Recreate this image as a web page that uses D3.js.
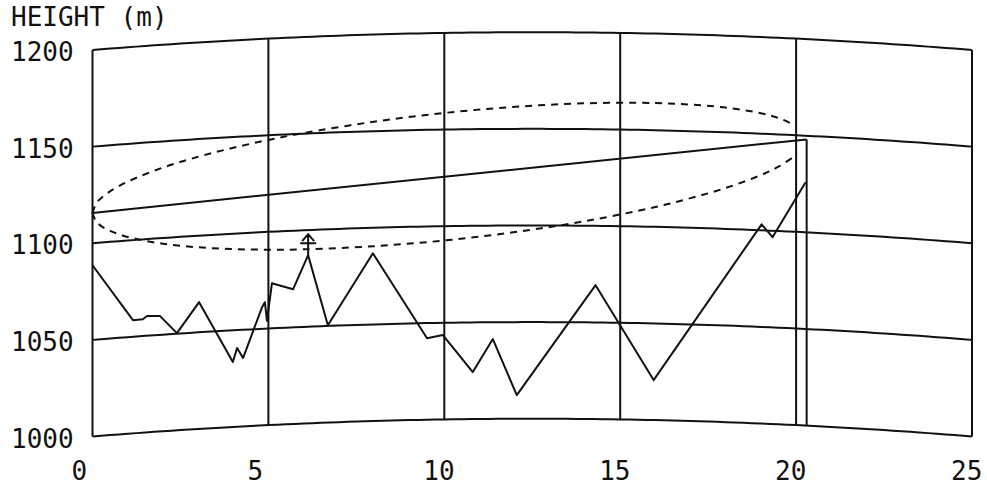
<!DOCTYPE html>
<html>
<head>
<meta charset="utf-8">
<script src="https://cdn.jsdelivr.net/npm/d3@7"></script>
<style>
  html, body { margin: 0; padding: 0; background: #fff; }
  svg { display: block; }
  text { font-family: "DejaVu Sans Mono", monospace; font-size: 26px; fill: #111; }
</style>
</head>
<body>
<svg id="chart" width="987" height="486"></svg>
<script>
// ---- data ----
const xTicks = [0, 5, 10, 15, 20, 25];
const yTicks = [1000, 1050, 1100, 1150, 1200];
const yTitle = "HEIGHT (m)";

// terrain profile: distance (km) and ground height (m)
const distanceKm = [0, 1.15, 1.43, 1.55, 1.92, 2.40, 3.03, 3.99, 4.11, 4.28, 4.82, 4.90, 4.96, 5.10, 5.70, 6.13, 6.69, 7.97, 9.51, 9.96, 10.81, 11.38, 12.06, 14.30, 15.95, 19.02, 19.33, 20.27];
const terrainHeight = [1088.6, 1058.6, 1058.7, 1060.2, 1059.7, 1050.3, 1065.6, 1033.6, 1040.7, 1035.4, 1061.2, 1063.7, 1054.0, 1073.3, 1069.7, 1087.0, 1050.4, 1086.8, 1042.2, 1043.7, 1024.3, 1041.3, 1012.2, 1069.3, 1020.7, 1103.1, 1096.7, 1125.9];

// antennas (site distance km, antenna top height m)
const antennaKm = [0, 20.3];
const antennaTop = [1115.7, 1148.1];

// Fresnel zone radius (m) along the path
const fresnelKm = [0, 0.1, 0.25, 0.5, 1, 2, 3, 4, 5, 6, 8, 10, 12, 14, 16, 17, 18, 19, 19.5, 20];
const fresnelRadius = [0, 4.6, 7.3, 10.2, 14.3, 19.7, 23.4, 26.2, 28.4, 30.1, 32.2, 33.0, 32.4, 30.5, 26.9, 24.2, 20.8, 16.0, 12.6, 7.6];

// critical obstruction point (km)
const obstructionKm = 6.13;

// earth curvature parameters
const kFactor = 4 / 3;
const earthRadiusKm = 6370;

// ---- chart ----
const svg = d3.select("#chart");
const x = d3.scaleLinear().domain([0, 25]).range([92.5, 972]);
const y = d3.scaleLinear().domain([1000, 1200]).range([436.5, 50]);
const span = x.domain()[1];
const bulge = d => d * (span - d) * 1000 / (2 * kFactor * earthRadiusKm);

const line = d3.line().x(p => x(p[0])).y(p => y(p[1]));
const g = svg.append("g").attr("fill", "none").attr("stroke", "#111");

// curved height reference lines
const samples = d3.range(0, span + 0.0001, 0.25);
yTicks.forEach(t => {
  g.append("path")
    .attr("d", line(samples.map(d => [d, t + bulge(d)])))
    .attr("stroke-width", 2);
});

// vertical grid lines
xTicks.forEach(t => {
  g.append("path")
    .attr("d", line([[t, yTicks[0] + bulge(t)], [t, yTicks[yTicks.length - 1] + bulge(t)]]))
    .attr("stroke-width", 2);
});

// terrain
const terrain = distanceKm.map((d, i) => [d, terrainHeight[i] + bulge(d)]);
g.append("path").attr("d", line(terrain)).attr("stroke-width", 2).attr("stroke-linejoin", "round");

// line of sight (straight on the drawing)
const losA = antennaKm.map((d, i) => antennaTop[i] + bulge(d));
const los = d3.scaleLinear().domain(antennaKm).range(losA);
g.append("path").attr("d", line(antennaKm.map((d, i) => [d, losA[i]]))).attr("stroke-width", 2);

// right antenna mast
const rk = antennaKm[1];
g.append("path")
  .attr("d", line([[rk, yTicks[0] + bulge(rk)], [rk, losA[1]]]))
  .attr("stroke-width", 2);

// Fresnel ellipse (dashed)
const curveLine = d3.line().x(p => x(p[0])).y(p => y(p[1])).curve(d3.curveCatmullRom);
g.append("path")
  .attr("d", curveLine(fresnelKm.map((d, i) => [d, los(d) + fresnelRadius[i]])))
  .attr("stroke-width", 2).attr("stroke-dasharray", "7,6");
g.append("path")
  .attr("d", curveLine(fresnelKm.map((d, i) => [d, los(d) - fresnelRadius[i]])))
  .attr("stroke-width", 2).attr("stroke-dasharray", "7,6");

// obstruction marker
const oi = distanceKm.indexOf(obstructionKm);
const ox = x(obstructionKm), oy = y(terrainHeight[oi] + bulge(obstructionKm));
g.append("path")
  .attr("d", `M${ox},${oy} L${ox},${oy - 21} M${ox - 6},${oy - 14} L${ox},${oy - 21} L${ox + 6},${oy - 14} M${ox - 8},${oy - 12} L${ox + 8},${oy - 12}`)
  .attr("stroke-width", 2);

// labels
svg.append("text").attr("x", 11).attr("y", 26).text(yTitle);
yTicks.forEach(t => {
  svg.append("text").attr("x", 11).attr("y", y(t) + 11).text(t);
});
xTicks.forEach(t => {
  svg.append("text").attr("x", x(t) - 21).attr("y", 480).text(t);
});
</script>
</body>
</html>
